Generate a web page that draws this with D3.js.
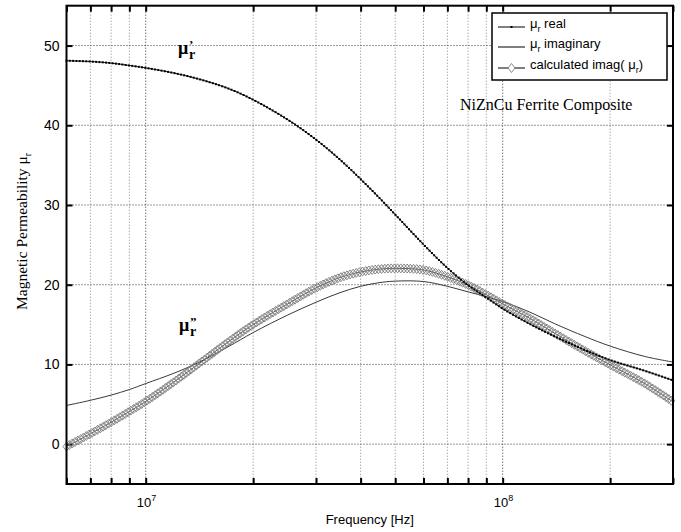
<!DOCTYPE html>
<html>
<head>
<meta charset="utf-8">
<script src="https://cdn.jsdelivr.net/npm/d3@7"></script>
<style>
  body { margin: 0; background: #fff; }
  svg { display: block; }
</style>
</head>
<body>
<script>
// values
var freq = [6e6, 7e6, 8e6, 9e6, 1e7, 1.2e7, 1.4e7, 1.7e7, 2e7, 2.5e7, 3e7, 3.5e7, 4e7, 4.5e7, 5e7,
            6e7, 7e7, 8e7, 9e7, 1e8, 1.2e8, 1.4e8, 1.7e8, 2e8, 2.5e8, 3e8];
var muReal = [48.1, 48.0, 47.8, 47.5, 47.2, 46.55, 45.83, 44.63, 43.2, 40.7, 38.2, 35.7, 33.25, 30.95, 28.8,
              25.05, 22.1, 19.95, 18.4, 17.0, 15.0, 13.5, 11.8, 10.55, 9.2, 8.0];
var muImag = [4.85, 5.5, 6.15, 6.85, 7.6, 8.9, 10.2, 12.2, 14.0, 16.2, 17.8, 19.0, 19.8, 20.25, 20.45,
              20.4, 19.8, 19.1, 18.5, 17.9, 16.5, 15.1, 13.5, 12.3, 11.0, 10.3];
var muCalc = [-0.3, 1.3, 2.75, 4.1, 5.35, 7.8, 10.0, 12.8, 15.0, 17.6, 19.6, 20.9, 21.6, 21.95, 22.05,
              21.85, 21.0, 19.95, 18.75, 17.6, 15.7, 13.9, 11.7, 9.95, 7.6, 5.3];

var yTicks = [0, 10, 20, 30, 40, 50];
var xLabelTicks = [1e7, 1e8];
var xTicks = [6e6, 7e6, 8e6, 9e6, 1e7, 2e7, 3e7, 4e7, 5e7, 6e7, 7e7, 8e7, 9e7, 1e8, 2e8, 3e8];
var legendLabels = ["real", "imaginary", "calculated imag( \u03bc"];

var w = 681, h = 532;
var pLeft = 66.5, pRight = 673, pTop = 5.7, pBottom = 484;

var svg = d3.select("body").append("svg")
    .attr("width", w)
    .attr("height", h);

var x = d3.scaleLog().domain([6e6, 3e8]).range([pLeft, pRight]);
var y = d3.scaleLinear().domain([-5, 55]).range([pBottom, pTop]);

// grid lines (dotted)
svg.append("g").selectAll("line")
    .data(xTicks.filter(function (d) { return d > 6e6 && d < 3e8; }))
    .enter().append("line")
    .attr("x1", function (d) { return x(d); })
    .attr("x2", function (d) { return x(d); })
    .attr("y1", pTop).attr("y2", pBottom)
    .attr("stroke", function (d) { return xLabelTicks.indexOf(d) >= 0 ? "#333" : "#888"; })
    .attr("stroke-width", 1)
    .attr("stroke-dasharray", "1,2");

svg.append("g").selectAll("line")
    .data(yTicks)
    .enter().append("line")
    .attr("x1", pLeft).attr("x2", pRight)
    .attr("y1", function (d) { return y(d); })
    .attr("y2", function (d) { return y(d); })
    .attr("stroke", "#333")
    .attr("stroke-width", 1)
    .attr("stroke-dasharray", "1,2");

// axes with inward ticks on all four sides
function styleAxis(g) {
    g.select(".domain").remove();
    g.selectAll(".tick line").attr("stroke", "#000").attr("stroke-width", 2);
    g.selectAll(".tick text").remove();
}
svg.append("g").attr("transform", "translate(0," + pBottom + ")")
    .call(d3.axisBottom(x).tickValues(xTicks).tickSize(-6)).call(styleAxis);
svg.append("g").attr("transform", "translate(0," + pTop + ")")
    .call(d3.axisTop(x).tickValues(xTicks).tickSize(-6)).call(styleAxis);
svg.append("g").attr("transform", "translate(" + pLeft + ",0)")
    .call(d3.axisLeft(y).tickValues(yTicks).tickSize(-6)).call(styleAxis);
svg.append("g").attr("transform", "translate(" + pRight + ",0)")
    .call(d3.axisRight(y).tickValues(yTicks).tickSize(-6)).call(styleAxis);

// tick labels
svg.append("g").selectAll("text")
    .data(yTicks)
    .enter().append("text")
    .attr("x", pLeft - 7)
    .attr("y", function (d) { return y(d) + 5; })
    .attr("text-anchor", "end")
    .attr("font-family", "Liberation Sans, Arial, sans-serif")
    .attr("font-size", 14)
    .text(function (d) { return d; });

var xl = svg.append("g").selectAll("text")
    .data(xLabelTicks)
    .enter().append("text")
    .attr("x", function (d) { return x(d) - 9; })
    .attr("y", 507)
    .attr("font-family", "Liberation Sans, Arial, sans-serif")
    .attr("font-size", 13);
xl.append("tspan").text("10");
xl.append("tspan").attr("dy", -6).attr("font-size", 9)
    .text(function (d) { return Math.round(Math.log10(d)); });

// axis titles
svg.append("text")
    .attr("x", (pLeft + pRight) / 2)
    .attr("y", 524)
    .attr("text-anchor", "middle")
    .attr("font-family", "Liberation Sans, Arial, sans-serif")
    .attr("font-size", 13)
    .text("Frequency [Hz]");

var yl = svg.append("text")
    .attr("transform", "translate(26.5,310) rotate(-90)")
    .attr("text-anchor", "start")
    .attr("font-family", "Liberation Serif, Times New Roman, serif")
    .attr("font-size", 15.5);
yl.append("tspan").text("Magnetic Permeability \u03bc");
yl.append("tspan").attr("dy", 4).attr("font-size", 10).text("r");

// curves
var line = d3.line()
    .x(function (d) { return x(d[0]); })
    .y(function (d) { return y(d[1]); })
    .curve(d3.curveCatmullRom.alpha(0.5));

function pairs(vals) {
    return freq.map(function (f, i) { return [f, vals[i]]; });
}

var imagPath = svg.append("path")
    .datum(pairs(muImag))
    .attr("d", line)
    .attr("fill", "none")
    .attr("stroke", "#222")
    .attr("stroke-width", 0.9);

var calcPath = svg.append("path")
    .datum(pairs(muCalc))
    .attr("d", line)
    .attr("fill", "none")
    .attr("stroke", "#333")
    .attr("stroke-width", 0.8);

var realPath = svg.append("path")
    .datum(pairs(muReal))
    .attr("d", line)
    .attr("fill", "none")
    .attr("stroke", "#000")
    .attr("stroke-width", 0.9);

// markers spread along the drawn curves
function alongPath(p, step) {
    var node = p.node(), len = node.getTotalLength(), pts = [];
    for (var s = 0; s <= len; s += step) pts.push(node.getPointAtLength(s));
    return pts;
}

svg.append("g").selectAll("path")
    .data(alongPath(calcPath, 3.2))
    .enter().append("path")
    .attr("d", "M0,-4.5L3.5,0L0,4.5L-3.5,0Z")
    .attr("transform", function (d) { return "translate(" + d.x + "," + d.y + ")"; })
    .attr("fill", "none")
    .attr("stroke", "#7a7a7a")
    .attr("stroke-width", 0.9);

svg.append("g").selectAll("rect")
    .data(alongPath(realPath, 3.3))
    .enter().append("rect")
    .attr("x", function (d) { return d.x - 1; })
    .attr("y", function (d) { return d.y - 1; })
    .attr("width", 2)
    .attr("height", 2)
    .attr("fill", "#000");

// frame
svg.append("rect")
    .attr("x", pLeft).attr("y", pTop)
    .attr("width", pRight - pLeft).attr("height", pBottom - pTop)
    .attr("fill", "none")
    .attr("stroke", "#000")
    .attr("stroke-width", 2);

// legend
var lg = svg.append("g").attr("transform", "translate(492,13)");
lg.append("rect")
    .attr("width", 175).attr("height", 67)
    .attr("fill", "#fff")
    .attr("stroke", "#000")
    .attr("stroke-width", 1.5);

var rowY = [14, 34, 55];
lg.selectAll("line.key")
    .data(rowY)
    .enter().append("line")
    .attr("x1", 6).attr("x2", 33)
    .attr("y1", function (d) { return d; })
    .attr("y2", function (d) { return d; })
    .attr("stroke", "#000")
    .attr("stroke-width", 1);
lg.append("rect").attr("x", 18.5).attr("y", rowY[0] - 1).attr("width", 2).attr("height", 2).attr("fill", "#000");
lg.append("path")
    .attr("d", "M0,-4.5L3.5,0L0,4.5L-3.5,0Z")
    .attr("transform", "translate(19.5," + rowY[2] + ")")
    .attr("fill", "#fff")
    .attr("stroke", "#7a7a7a")
    .attr("stroke-width", 0.9);

var lt = lg.selectAll("text")
    .data(legendLabels)
    .enter().append("text")
    .attr("x", 38)
    .attr("y", function (d, i) { return rowY[i] + 1; })
    .attr("font-family", "Liberation Sans, Arial, sans-serif")
    .attr("font-size", 13);
lt.each(function (d, i) {
    var t = d3.select(this);
    if (i < 2) {
        t.append("tspan").text("\u03bc");
        t.append("tspan").attr("dy", 4).attr("font-size", 9).text("r");
        t.append("tspan").attr("dy", -4).text(" " + d);
    } else {
        t.append("tspan").text(d);
        t.append("tspan").attr("dy", 4).attr("font-size", 9).text("r");
        t.append("tspan").attr("dy", -4).text(")");
    }
});

// annotations
svg.append("text")
    .attr("x", 460).attr("y", 110)
    .attr("font-family", "Liberation Serif, Times New Roman, serif")
    .attr("font-size", 16)
    .text("NiZnCu Ferrite Composite");

var serif = "Liberation Serif, Times New Roman, serif";
function muLabel(px, py, prime) {
    var g = svg.append("g").attr("font-family", serif).attr("font-weight", "bold");
    g.append("text").attr("x", px).attr("y", py).attr("font-size", 18).text("\u03bc");
    g.append("text").attr("x", px + 11).attr("y", py - 5).attr("font-size", 13).text(prime);
    g.append("text").attr("x", px + 11).attr("y", py + 5).attr("font-size", 14).text("r");
}
muLabel(178, 54, "\u2019");
muLabel(179, 331, "\u201d");
</script>
</body>
</html>
